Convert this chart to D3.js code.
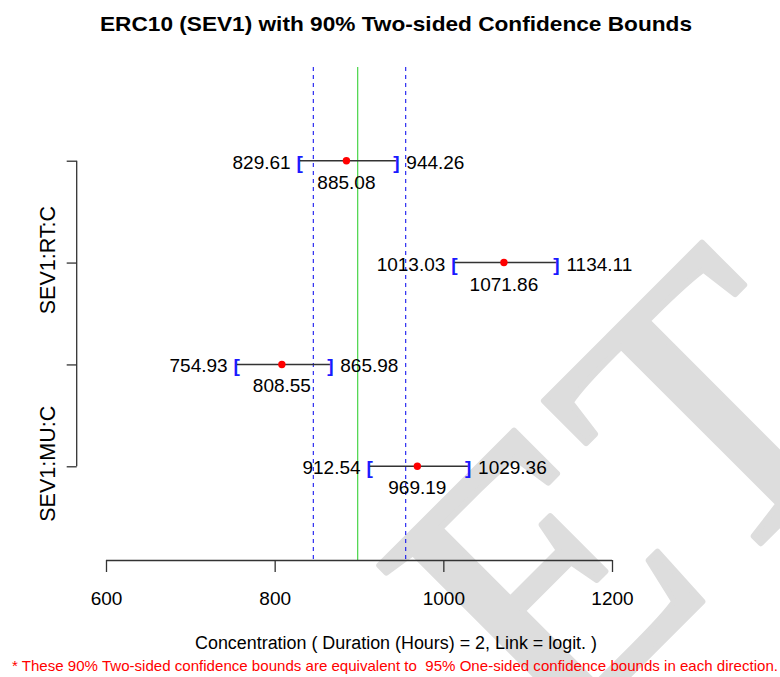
<!DOCTYPE html>
<html>
<head>
<meta charset="utf-8">
<script src="https://cdn.jsdelivr.net/npm/d3@7/dist/d3.min.js"></script>
<style>
  html, body { margin: 0; padding: 0; background: #ffffff; }
  svg { display: block; }
  text { font-family: "Liberation Sans", Arial, Helvetica, sans-serif; }
</style>
</head>
<body>
<svg id="chart" width="780" height="677"></svg>
<script>
// ---- data ----
const rows = [1, 2, 3, 4];
const tickLabels = ["", "SEV1:RT:C", "", "SEV1:MU:C"];
const estimates = [885.08, 1071.86, 808.55, 969.19];
const lowerBounds = [829.61, 1013.03, 754.93, 912.54];
const upperBounds = [944.26, 1134.11, 865.98, 1029.36];
const xTicks = [600, 800, 1000, 1200];
const dashedRefs = [845.8, 955.4];
const solidRefs = [898.5];
const titleText = "ERC10 (SEV1) with 90% Two-sided Confidence Bounds";
const xLabelText = "Concentration ( Duration (Hours) = 2, Link = logit. )";
const footnoteText = "* These 90% Two-sided confidence bounds are equivalent to  95% One-sided confidence bounds in each direction.";
const watermarkText = "ET";

// ---- layout ----
const W = 780, H = 677;
const plot = { left: 106, right: 612, top: 67, bottom: 560 };
const yAxisX = 76.7;
const svg = d3.select("#chart");

const x = d3.scaleLinear().domain([600, 1200]).range([plot.left, plot.right]);
const y = d3.scalePoint().domain(rows).range([plot.top, plot.bottom]).padding(0.92);

// watermark
svg.append("text")
  .attr("transform", "translate(551,753) rotate(-45)")
  .style("font-family", "'Liberation Serif', 'DejaVu Serif', serif")
  .attr("font-size", 388)
  .attr("fill", "#dddddd")
  .attr("stroke", "#dddddd").attr("stroke-width", 6).attr("stroke-linejoin", "round")
  .text(watermarkText);

// title
svg.append("text")
  .attr("x", 396).attr("y", 31)
  .attr("text-anchor", "middle")
  .attr("font-weight", "bold")
  .attr("font-size", 21)
  .attr("textLength", 592).attr("lengthAdjust", "spacingAndGlyphs")
  .text(titleText);

// reference lines
svg.selectAll("line.dref").data(dashedRefs).join("line")
  .attr("class", "dref")
  .attr("x1", d => x(d)).attr("x2", d => x(d))
  .attr("y1", plot.top).attr("y2", plot.bottom)
  .attr("stroke", "#0000ee").attr("stroke-width", 1)
  .attr("stroke-dasharray", "4,4");
svg.selectAll("line.sref").data(solidRefs).join("line")
  .attr("class", "sref")
  .attr("x1", d => x(d)).attr("x2", d => x(d))
  .attr("y1", plot.top).attr("y2", plot.bottom)
  .attr("stroke", "#22cc22").attr("stroke-width", 1);

// x axis (R style)
const xAxis = d3.axisBottom(x).tickValues(xTicks).tickSize(12).tickPadding(20).tickFormat(d3.format("d"));
const gx = svg.append("g").attr("transform", `translate(0,${plot.bottom})`).call(xAxis);
gx.select(".domain").attr("d", `M${x(600)},0.5H${x(1200)}`).attr("stroke", "#333").attr("stroke-width", 1.3);
gx.selectAll(".tick line").attr("stroke", "#333").attr("stroke-width", 1.3);
gx.selectAll(".tick text").attr("font-size", 19).attr("fill", "#000")
  .style("font-family", "'Liberation Sans', Arial, sans-serif");

// y axis
const yAxis = d3.axisLeft(y).tickSize(10).tickPadding(22).tickFormat((d, i) => tickLabels[i]);
const gy = svg.append("g").attr("transform", `translate(${yAxisX},0)`).call(yAxis);
gy.select(".domain").attr("d", `M0,${y(rows[0])}V${y(rows[rows.length - 1])}`).attr("stroke", "#333").attr("stroke-width", 1.3);
gy.selectAll(".tick line").attr("stroke", "#333").attr("stroke-width", 1.3);
gy.selectAll(".tick text")
  .attr("font-size", 21.5).attr("fill", "#000")
  .style("font-family", "'Liberation Sans', Arial, sans-serif")
  .attr("text-anchor", "middle")
  .attr("x", null).attr("dy", null)
  .attr("transform", "translate(-22,-3) rotate(-90)");

// interval rows
const data = rows.map((r, i) => ({ r, est: estimates[i], lo: lowerBounds[i], hi: upperBounds[i] }));
const g = svg.append("g");
g.selectAll("line.ci").data(data).join("line")
  .attr("class", "ci")
  .attr("x1", d => x(d.lo)).attr("x2", d => x(d.hi))
  .attr("y1", d => y(d.r)).attr("y2", d => y(d.r))
  .attr("stroke", "#333").attr("stroke-width", 1.4);
g.selectAll("text.lb").data(data).join("text")
  .attr("class", "lb").attr("x", d => x(d.lo)).attr("y", d => y(d.r) + 8)
  .attr("text-anchor", "middle").attr("font-size", 19).attr("font-weight", "bold")
  .attr("fill", "#1a1aff").text("[");
g.selectAll("text.ub").data(data).join("text")
  .attr("class", "ub").attr("x", d => x(d.hi)).attr("y", d => y(d.r) + 8)
  .attr("text-anchor", "middle").attr("font-size", 19).attr("font-weight", "bold")
  .attr("fill", "#1a1aff").text("]");
g.selectAll("circle.pt").data(data).join("circle")
  .attr("class", "pt").attr("cx", d => x(d.est)).attr("cy", d => y(d.r)).attr("r", 3.7)
  .attr("fill", "#ff0000");
g.selectAll("text.lol").data(data).join("text")
  .attr("class", "lol").attr("x", d => x(d.lo) - 9).attr("y", d => y(d.r) + 8)
  .attr("text-anchor", "end").attr("font-size", 19).text(d => d.lo.toFixed(2));
g.selectAll("text.hil").data(data).join("text")
  .attr("class", "hil").attr("x", d => x(d.hi) + 10).attr("y", d => y(d.r) + 8)
  .attr("text-anchor", "start").attr("font-size", 19).text(d => d.hi.toFixed(2));
g.selectAll("text.estl").data(data).join("text")
  .attr("class", "estl").attr("x", d => x(d.est)).attr("y", d => y(d.r) + 28)
  .attr("text-anchor", "middle").attr("font-size", 19).text(d => d.est.toFixed(2));

// x label
svg.append("text")
  .attr("x", 396).attr("y", 649)
  .attr("text-anchor", "middle").attr("font-size", 18)
  .attr("textLength", 402).attr("lengthAdjust", "spacingAndGlyphs")
  .text(xLabelText);

// footnote
svg.append("text")
  .attr("x", 395).attr("y", 671)
  .attr("text-anchor", "middle").attr("font-size", 14.5).attr("fill", "#ff0000")
  .style("white-space", "pre")
  .attr("textLength", 766).attr("lengthAdjust", "spacingAndGlyphs")
  .text(footnoteText);
</script>
</body>
</html>
